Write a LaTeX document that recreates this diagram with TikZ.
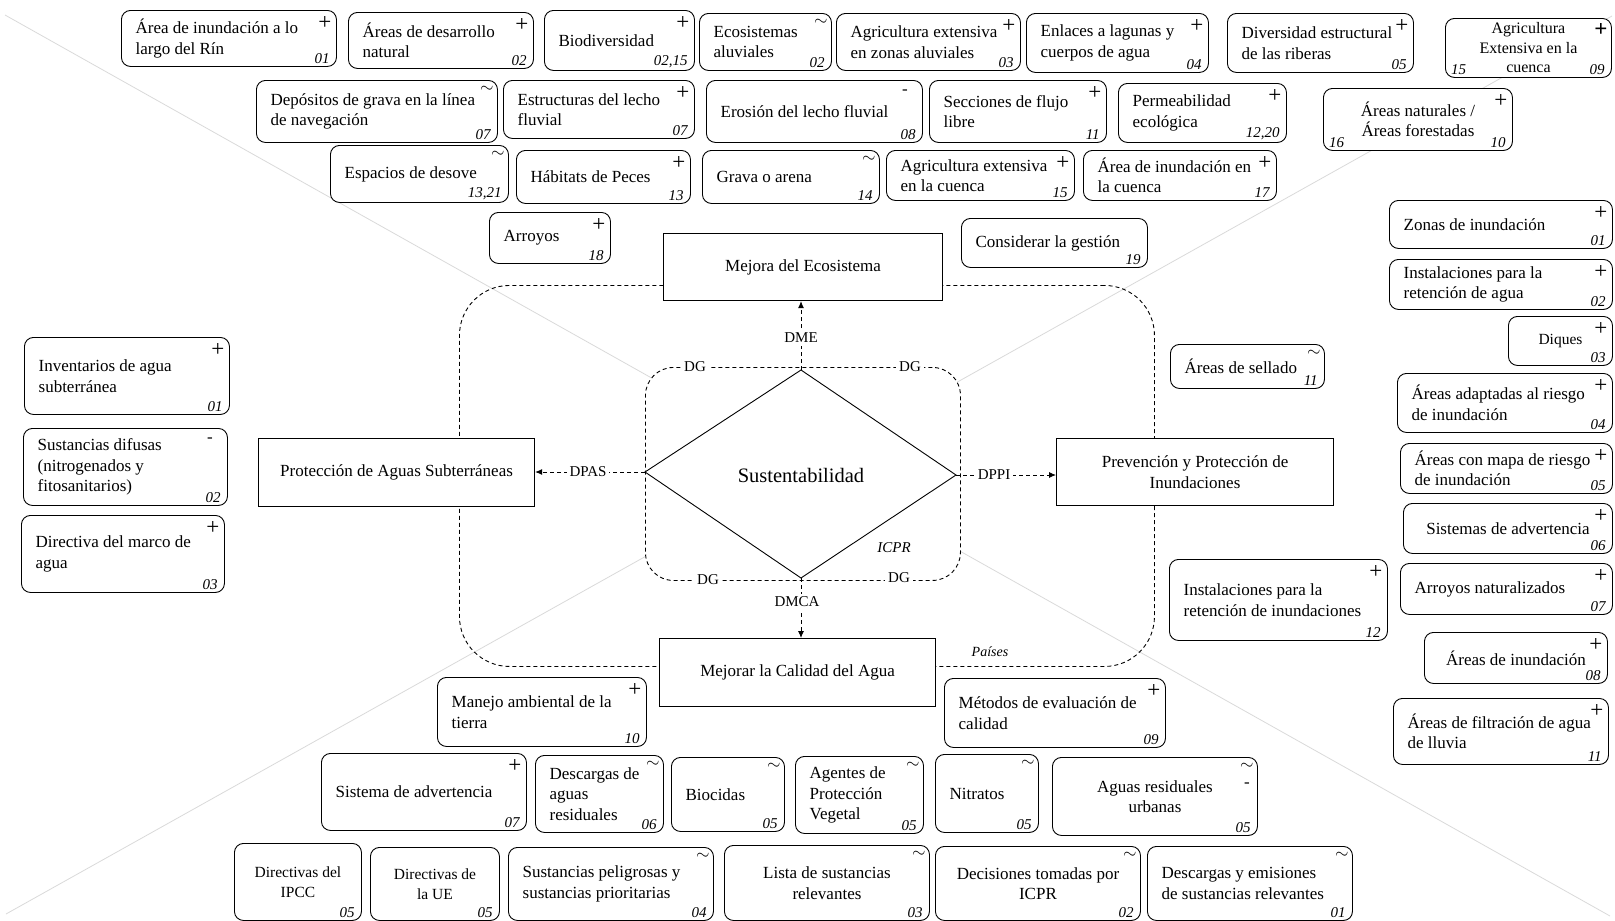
\documentclass[tikz,border=0pt]{standalone}
\usepackage{fontspec}
\setmainfont{Liberation Serif}
\usetikzlibrary{arrows.meta,calc}
\newcommand\rb[9]{%
  \pgfmathsetmacro\bw{#4-#2}%
  \pgfmathsetmacro\bh{#5-#3}%
  \pgfmathsetmacro\hw{(#4-#2)/2-14}%
  \node[rbox, anchor=north west, minimum width=\bw pt, minimum height=\bh pt] (#1) at (#2,#3) {};
  \node[txt, #8] (#1-t) at (#1.center) {#9};
  \def\curbox{#1}#6%
  \if\relax\detokenize{#7}\relax\else
    \node[num, anchor=south east] (#1-n) at ($(#1.south east)+(-6,-2)$) {#7};
  \fi
}
\newcommand\mr[6]{%
  \pgfmathsetmacro\bw{#4-#2}%
  \pgfmathsetmacro\bh{#5-#3}%
  \node[mainbox, anchor=north west, minimum width=\bw pt, minimum height=\bh pt] (#1) at (#2,#3) {#6};
}
\newcommand\sgP{\node[sgn] (\curbox-s) at ($(\curbox.north east)+(-12,13)$) {+};}
\newcommand\sgPB{\node[sgn] (\curbox-s) at ($(\curbox.north east)+(-11,12)$) {\textbf{+}};}
\newcommand\sgT{\node[tld] (\curbox-s) at ($(\curbox.north east)+(-11,9)$) {$\sim$};}
\newcommand\sgM{\node[mns] (\curbox-s) at ($(\curbox.north east)+(-18,12)$) {-};}
\newcommand\sgMb{\node[mns] (\curbox-m) at ($(\curbox.north east)+(-11,28)$) {-};}
\newcommand\numL[1]{\node[num, anchor=south west] (\curbox-nl) at ($(\curbox.south west)+(5,-2)$) {#1};}
\begin{document}
\begin{tikzpicture}[x=1pt,y=-1pt,
  rbox/.style={draw, rounded corners=9pt, fill=white, line width=0.9pt, inner sep=0pt},
  mainbox/.style={draw, fill=white, line width=1.1pt, inner sep=0pt, align=center, font=\fontsize{17}{20.5}\selectfont},
  txt/.style={font=\fontsize{17}{20.5}\selectfont, inner sep=0pt},
  lt/.style={anchor=west, xshift=-\hw pt, align=left},
  ct/.style={anchor=center, align=center},
  num/.style={font=\fontsize{15}{15}\selectfont\itshape, inner sep=1pt},
  sgn/.style={font=\fontsize{23}{23}\selectfont, inner sep=0pt},
  tld/.style={font=\fontsize{17}{17}\selectfont, inner sep=0pt},
  mns/.style={font=\fontsize{17}{17}\selectfont, inner sep=0pt},
  lbl/.style={font=\fontsize{15}{15}\selectfont, fill=white, inner sep=3pt},
  dsh/.style={dash pattern=on 4pt off 3pt, line width=0.9pt},
  arr/.style={dsh, -{Latex[length=7pt,width=6pt]}},
  diag/.style={draw=black!15, line width=0.8pt}
]
\useasboundingbox (0,0) rectangle (1615,921);
% faint diagonals
\coordinate (ctl) at (5,15);
\coordinate (cbr) at (1610,916);
\coordinate (ctr) at (1612,16);
\coordinate (cbl) at (6,914);
\draw[diag] (ctl) -- (cbr);
\draw[diag] (ctr) -- (cbl);
% dashed frames
\node[draw, dsh, rounded corners=50pt, minimum width=695pt, minimum height=381pt, anchor=north west, inner sep=0pt] (outer) at (459,285) {};
\node[draw, dsh, fill=white, rounded corners=28pt, minimum width=315pt, minimum height=213pt, anchor=north west, inner sep=0pt] (inner) at (645,367) {};
% diamond
\coordinate (dl) at (645,472);
\coordinate (dt) at (801,370);
\coordinate (dr) at (956,475);
\coordinate (db) at (801,578);
\draw[line width=0.9pt] (dl) -- (dt) -- (dr) -- (db) -- cycle;
\node[font=\fontsize{20.5}{24}\selectfont, inner sep=0pt] (sus) at (801,475) {Sustentabilidad};
% main boxes
\mr{mej}{663}{233}{942}{300}{Mejora del Ecosistema}
\mr{pro}{258}{438}{534}{506}{Protección de Aguas Subterráneas}
\mr{pre}{1056}{438}{1333}{505}{Prevención y Protección de\\Inundaciones}
\mr{cal}{659}{638}{935}{706}{Mejorar la Calidad del Agua}
% connectors
\draw[arr] (dt) -- (dt |- mej.south);
\draw[arr] (dl) -- (dl -| pro.east);
\draw[arr] (dr) -- (dr -| pre.west);
\draw[arr] (db) -- (db |- cal.north);
\node[lbl] (dme) at (801,338) {DME};
\node[lbl] (dpas) at (588,472) {DPAS};
\node[lbl] (dppi) at (994,475) {DPPI};
\node[lbl] (dmca) at (797,602) {DMCA};
\node[lbl] (dg1) at (695,367) {DG};
\node[lbl] (dg2) at (910,367) {DG};
\node[lbl] (dg3) at (708,580) {DG};
\node[lbl] (dg4) at (899,578) {DG};
\node[font=\fontsize{15}{15}\selectfont\itshape, inner sep=0pt] (icpr) at (894,548) {ICPR};
\node[font=\fontsize{14}{14}\selectfont\itshape, inner sep=0pt] (paises) at (990,652) {Países};
% top rows
\rb{a1}{121}{10}{336}{66}{\sgP}{01}{lt}{Área de inundación a lo\\largo del Rín}
\rb{a2}{348}{12}{533}{68}{\sgP}{02}{lt}{Áreas de desarrollo\\natural}
\rb{a3}{544}{10}{694}{70}{\sgP}{02,15}{lt}{Biodiversidad}
\rb{a4}{699}{13}{831}{70}{\sgT}{02}{lt}{Ecosistemas\\aluviales}
\rb{a5}{836}{13}{1020}{70}{\sgP}{03}{lt}{Agricultura extensiva\\en zonas aluviales}
\rb{a6}{1026}{13}{1208}{72}{\sgP}{04}{lt}{Enlaces a lagunas y\\cuerpos de agua}
\rb{a7}{1227}{13}{1413}{72}{\sgP}{05}{lt}{Diversidad estructural\\de las riberas}
\rb{a8}{1445}{18}{1611}{77}{\sgPB\numL{15}}{09}{ct, font=\fontsize{16}{19.5}\selectfont}{Agricultura\\Extensiva en la\\cuenca}
\rb{b1}{256}{80}{497}{142}{\sgT}{07}{lt}{Depósitos de grava en la línea\\de navegación}
\rb{b2}{503}{80}{694}{138}{\sgP}{07}{lt}{Estructuras del lecho\\fluvial}
\rb{b3}{706}{80}{922}{142}{\sgM}{08}{lt}{Erosión del lecho fluvial}
\rb{b4}{929}{80}{1106}{142}{\sgP}{11}{lt}{Secciones de flujo\\libre}
\rb{b5}{1118}{83}{1286}{142}{\sgP}{12,20}{lt}{Permeabilidad\\ecológica}
\rb{b6}{1323}{88}{1512}{150}{\sgP\numL{16}}{10}{ct}{Áreas naturales /\\Áreas forestadas}
\rb{c1}{330}{145}{508}{202}{\sgT}{13,21}{lt}{Espacios de desove}
\rb{c2}{516}{150}{690}{203}{\sgP}{13}{lt}{Hábitats de Peces}
\rb{c3}{702}{150}{879}{203}{\sgT}{14}{lt}{Grava o arena}
\rb{c4}{886}{150}{1074}{200}{\sgP}{15}{lt}{Agricultura extensiva\\en la cuenca}
\rb{c5}{1083}{150}{1276}{200}{\sgP}{17}{lt}{Área de inundación en\\la cuenca}
\rb{d1}{489}{212}{610}{263}{\sgP}{18}{lt}{Arroyos}
\rb{d2}{961}{218}{1147}{267}{}{19}{lt}{Considerar la gestión}
% left column
\rb{l1}{24}{337}{229}{414}{\sgP}{01}{lt}{Inventarios de agua\\subterránea}
\rb{l2}{23}{428}{227}{505}{\sgM}{02}{lt}{Sustancias difusas\\(nitrogenados y\\fitosanitarios)}
\rb{l3}{21}{515}{224}{592}{\sgP}{03}{lt}{Directiva del marco de\\agua}
% right side
\rb{s1}{1170}{344}{1324}{388}{\sgT}{11}{lt}{Áreas de sellado}
\rb{s2}{1169}{559}{1387}{640}{\sgP}{12}{lt}{Instalaciones para la\\retención de inundaciones}
\rb{r1}{1389}{200}{1612}{248}{\sgP}{01}{lt}{Zonas de inundación}
\rb{r2}{1389}{259}{1612}{309}{\sgP}{02}{lt}{Instalaciones para la\\retención de agua}
\rb{r3}{1508}{316}{1612}{365}{\sgP}{03}{ct, font=\fontsize{15.5}{18}\selectfont}{Diques}
\rb{r4}{1397}{373}{1612}{432}{\sgP}{04}{lt}{Áreas adaptadas al riesgo\\de inundación}
\rb{r5}{1400}{443}{1612}{493}{\sgP}{05}{lt}{Áreas con mapa de riesgo\\de inundación}
\rb{r6}{1403}{503}{1612}{553}{\sgP}{06}{ct}{Sistemas de advertencia}
\rb{r7}{1400}{563}{1612}{614}{\sgP}{07}{lt}{Arroyos naturalizados}
\rb{r8}{1424}{632}{1607}{683}{\sgP}{08}{ct}{Áreas de inundación}
\rb{r9}{1393}{698}{1608}{764}{\sgP}{11}{lt}{Áreas de filtración de agua\\de lluvia}
% bottom
\rb{m1}{437}{677}{646}{746}{\sgP}{10}{lt}{Manejo ambiental de la\\tierra}
\rb{m2}{944}{678}{1165}{747}{\sgP}{09}{lt}{Métodos de evaluación de\\calidad}
\rb{n1}{321}{753}{526}{830}{\sgP}{07}{lt}{Sistema de advertencia}
\rb{n2}{535}{755}{663}{832}{\sgT}{06}{lt}{Descargas de\\aguas\\residuales}
\rb{n3}{671}{757}{784}{831}{\sgT}{05}{lt}{Biocidas}
\rb{n4}{795}{756}{923}{833}{\sgT}{05}{lt}{Agentes de\\Protección\\Vegetal}
\rb{n5}{935}{754}{1038}{832}{\sgT}{05}{lt}{Nitratos}
\rb{n6}{1052}{757}{1257}{835}{\sgT\sgMb}{05}{ct}{Aguas residuales\\urbanas}
\rb{o1}{234}{843}{361}{920}{}{05}{ct, font=\fontsize{15.5}{20}\selectfont}{Directivas del\\IPCC}
\rb{o2}{370}{847}{499}{920}{}{05}{ct, font=\fontsize{15.5}{20}\selectfont}{Directivas de\\la UE}
\rb{o3}{508}{847}{713}{920}{\sgT}{04}{lt}{Sustancias peligrosas y\\sustancias prioritarias}
\rb{o4}{724}{845}{929}{920}{\sgT}{03}{ct}{Lista de sustancias\\relevantes}
\rb{o5}{935}{846}{1140}{920}{\sgT}{02}{ct}{Decisiones tomadas por\\ICPR}
\rb{o6}{1147}{846}{1352}{920}{\sgT}{01}{lt}{Descargas y emisiones\\de sustancias relevantes}
\end{tikzpicture}
\end{document}
